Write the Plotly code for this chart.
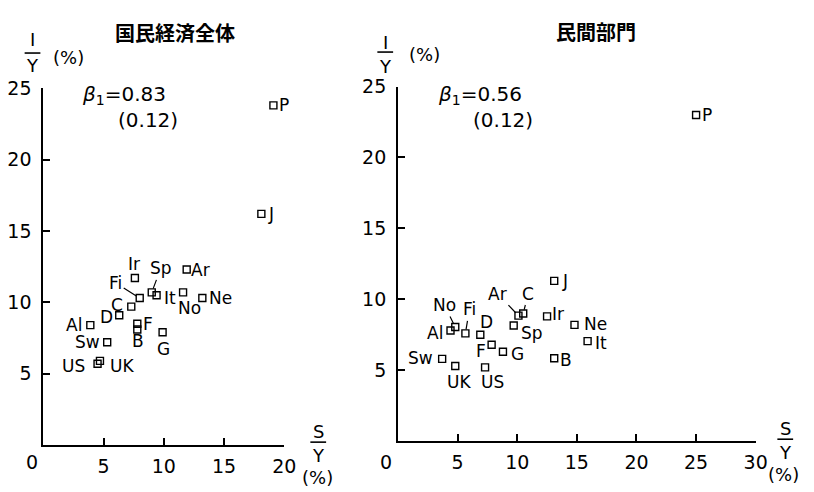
import plotly.graph_objects as go

# ---------------- data ----------------
countries_all = ["P", "J", "Ir", "Sp", "It", "Ar", "No", "Ne", "Fi", "C", "D", "Al",
                 "F", "B", "G", "Sw", "US", "UK"]
s_all = [19.1, 18.1, 7.6, 9.0, 9.4, 11.9, 11.6, 13.2, 8.0, 7.3, 6.3, 3.9,
         7.8, 7.8, 9.9, 5.3, 4.5, 4.7]
i_all = [23.8, 16.2, 11.7, 10.7, 10.5, 12.3, 10.7, 10.3, 10.3, 9.7, 9.1, 8.4,
         8.5, 8.1, 7.9, 7.2, 5.7, 5.9]

countries_priv = ["P", "J", "Ar", "C", "Ir", "Ne", "It", "B", "Sp", "G", "F", "D",
                  "Fi", "No", "Al", "Sw", "UK", "US"]
s_priv = [25.0, 13.1, 10.1, 10.5, 12.5, 14.8, 15.9, 13.1, 9.7, 8.8, 7.85, 6.9,
          5.65, 4.8, 4.4, 3.7, 4.8, 7.3]
i_priv = [23.0, 11.3, 8.85, 9.0, 8.8, 8.2, 7.05, 5.85, 8.15, 6.3, 6.8, 7.5,
          7.6, 8.05, 7.8, 5.8, 5.3, 5.2]

panel_titles = ["国民経済全体", "民間部門"]
beta_values = ["0.83", "0.56"]
se_values = ["(0.12)", "(0.12)"]
x_ticks_all = [5, 10, 15, 20]
x_ticks_priv = [5, 10, 15, 20, 25, 30]
y_ticks = [5, 10, 15, 20, 25]

# ---------------- label placement (pixels) ----------------
lab_all = {
    "P": (11, 0, False), "J": (10, 0, False), "Ir": (-1, 14, False),
    "Sp": (9, -24, True), "It": (13, -3, False), "Ar": (14, 0, False),
    "No": (6, -16, False), "Ne": (18, 0, False), "Fi": (-24, -15, True),
    "C": (-14, 2, False), "D": (-13, -2, False), "Al": (-16, 0, False),
    "F": (11, 0, False), "B": (1, -12, False), "G": (1, -17, False),
    "Sw": (-20, 0, False), "US": (-24, -2, False), "UK": (22, -5, False),
}
lab_priv = {
    "P": (11, 0, False), "J": (11, 0, False), "Ar": (-21, -22, True),
    "C": (5, -20, True), "Ir": (11, 2, False), "Ne": (21, 1, False),
    "It": (13, -2, False), "B": (12, -2, False), "Sp": (18, -7, False),
    "G": (15, -2, False), "F": (-11, -6, False), "D": (6, 13, False),
    "Fi": (4, -24, True), "No": (-11, -22, True), "Al": (-16, -2, False),
    "Sw": (-22, 1, False), "UK": (4, -16, False), "US": (7, -15, False),
}

W, H = 814, 492
FONT = "DejaVu Sans, sans-serif"
CJK = "Noto Sans CJK JP"


def px(x):
    return x / W


def py(y):
    return 1 - y / H


fig = go.Figure()

marker_style = dict(symbol="square-open", size=7, color="black",
                    line=dict(width=1.4, color="black"))
fig.add_trace(go.Scatter(x=s_all, y=i_all, mode="markers", xaxis="x", yaxis="y",
                         marker=marker_style, showlegend=False, hoverinfo="skip"))
fig.add_trace(go.Scatter(x=s_priv, y=i_priv, mode="markers", xaxis="x2", yaxis="y2",
                         marker=marker_style, showlegend=False, hoverinfo="skip"))

annotations = []
LABEL_SIZE = 17


def add_labels(names, xs, ys, labs, xr, yr):
    for n, x, y in zip(names, xs, ys):
        dx, dy, leader = labs[n]
        if leader:
            annotations.append(dict(x=x, y=y, xref=xr, yref=yr, text=n,
                                    showarrow=True, ax=dx, ay=dy, arrowhead=0,
                                    arrowwidth=1.2, arrowcolor="black", standoff=4,
                                    font=dict(family=FONT, size=LABEL_SIZE, color="black")))
        else:
            annotations.append(dict(x=x, y=y, xref=xr, yref=yr, text=n,
                                    showarrow=False, xshift=dx, yshift=dy,
                                    font=dict(family=FONT, size=LABEL_SIZE, color="black")))


add_labels(countries_all, s_all, i_all, lab_all, "x", "y")
add_labels(countries_priv, s_priv, i_priv, lab_priv, "x2", "y2")


def txt(x, y, t, size=18, family=FONT, xanchor="center"):
    annotations.append(dict(x=px(x), y=py(y), xref="paper", yref="paper", text=t,
                            showarrow=False, xanchor=xanchor, yanchor="middle",
                            font=dict(family=family, size=size, color="black")))


# titles
txt(178, 22, "<b>" + panel_titles[0] + "</b>", size=20, family=CJK)
txt(605, 21, "<b>" + panel_titles[1] + "</b>", size=20, family=CJK)

# beta annotations
txt(126, 86, "<i>β</i><sub>1</sub>=" + beta_values[0], size=20)
txt(150, 111, se_values[0], size=20)
txt(487, 86, "<i>β</i><sub>1</sub>=" + beta_values[1], size=20)
txt(511, 111, se_values[1], size=20)

# origin zeros
txt(32, 461, "0", size=19)
txt(392, 461, "0", size=19)

shapes = []


def frac(cx, ytop, ybar, ybot, top, bot, half=8):
    txt(cx, ytop, top, size=18)
    txt(cx, ybot, bot, size=18)
    shapes.append(dict(type="line", xref="paper", yref="paper",
                       x0=px(cx - half), x1=px(cx + half), y0=py(ybar), y1=py(ybar),
                       line=dict(color="black", width=1.6)))


# y axis titles I/Y (%)
frac(33, 29, 43, 56, "I", "Y")
txt(70, 48, "(%)", size=18)
frac(391, 32, 42, 57, "I", "Y")
txt(431, 44, "(%)", size=18)

# x axis titles S/Y (%)
frac(323, 430, 441, 455, "S", "Y")
txt(322, 477, "(%)", size=18)
frac(797, 427, 438, 452, "S", "Y")
txt(795, 474, "(%)", size=18)

axis_common = dict(showline=True, linecolor="black", linewidth=2, ticks="inside",
                   ticklen=7, tickwidth=1.5, tickcolor="black", showgrid=False,
                   zeroline=False, tickfont=dict(family=FONT, size=19, color="black"),
                   fixedrange=True)

fig.update_layout(
    width=W, height=H,
    margin=dict(l=0, r=0, t=0, b=0),
    paper_bgcolor="white", plot_bgcolor="white",
    showlegend=False,
    xaxis=dict(domain=[px(44), px(288.5)], range=[0, 20], anchor="y",
               ticklabelstandoff=3,
               tickvals=x_ticks_all, ticktext=[str(v) for v in x_ticks_all], **axis_common),
    yaxis=dict(domain=[py(444), py(79)], range=[0, 25], anchor="x",
               ticklabelstandoff=6,
               tickvals=y_ticks, ticktext=[str(v) for v in y_ticks], **axis_common),
    xaxis2=dict(domain=[px(404), px(767)], range=[0, 30], anchor="y2",
                ticklabelstandoff=3,
                tickvals=x_ticks_priv, ticktext=[str(v) for v in x_ticks_priv], **axis_common),
    yaxis2=dict(domain=[py(440), py(77.3)], range=[0, 25], anchor="x2",
                ticklabelstandoff=6,
                tickvals=y_ticks, ticktext=[str(v) for v in y_ticks], **axis_common),
    annotations=annotations,
    shapes=shapes,
)

fig.write_html("out.html", config={"displayModeBar": False},
               post_script="document.body.style.margin='0';document.body.style.overflow='hidden';")
